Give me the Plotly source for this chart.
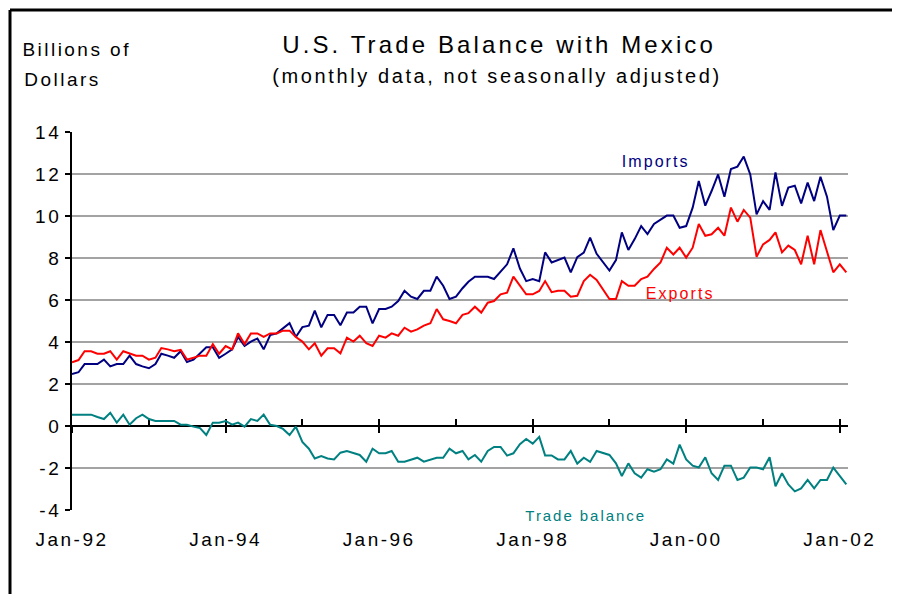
import plotly.graph_objects as go
import pandas as pd

# Monthly values, Jan-1992 .. Feb-2002 (billions of dollars)
imports = [2.48, 2.56, 2.95, 2.95, 2.95, 3.16, 2.84, 2.95, 2.95, 3.35, 2.95, 2.84,
           2.75, 2.95, 3.44, 3.35, 3.25, 3.56, 3.05, 3.16, 3.44, 3.75, 3.75, 3.25,
           3.44, 3.65, 4.24, 3.81, 4.02, 4.17, 3.65, 4.33, 4.41, 4.63, 4.90, 4.24,
           4.71, 4.78, 5.49, 4.70, 5.29, 5.29, 4.80, 5.40, 5.40, 5.68, 5.68, 4.89,
           5.57, 5.57, 5.68, 5.95, 6.44, 6.16, 6.05, 6.44, 6.44, 7.11, 6.68, 6.05,
           6.16, 6.56, 6.87, 7.11, 7.11, 7.11, 7.00, 7.35, 7.70, 8.46, 7.50, 6.90,
           7.00, 6.90, 8.27, 7.79, 7.90, 8.02, 7.32, 8.04, 8.26, 8.97, 8.20, 7.78,
           7.40, 7.90, 9.22, 8.38, 8.90, 9.52, 9.14, 9.62, 9.81, 10.02, 10.02, 9.44,
           9.52, 10.40, 11.67, 10.49, 11.19, 11.98, 10.92, 12.24, 12.35, 12.83, 11.98, 10.08,
           10.71, 10.29, 12.08, 10.48, 11.35, 11.44, 10.60, 11.59, 10.71, 11.87, 10.92, 9.33,
           10.02, 10.02]

exports = [3.03, 3.14, 3.56, 3.56, 3.44, 3.44, 3.56, 3.16, 3.56, 3.44, 3.35, 3.35,
           3.16, 3.25, 3.71, 3.65, 3.56, 3.62, 3.16, 3.25, 3.35, 3.35, 3.90, 3.44,
           3.81, 3.65, 4.41, 3.90, 4.41, 4.41, 4.24, 4.41, 4.41, 4.54, 4.54, 4.24,
           4.02, 3.65, 3.94, 3.35, 3.70, 3.70, 3.46, 4.21, 4.02, 4.30, 3.94, 3.81,
           4.30, 4.21, 4.41, 4.30, 4.68, 4.49, 4.60, 4.78, 4.89, 5.57, 5.08, 5.00,
           4.89, 5.29, 5.37, 5.68, 5.40, 5.87, 5.95, 6.27, 6.35, 7.11, 6.68, 6.27,
           6.27, 6.43, 6.90, 6.37, 6.44, 6.44, 6.16, 6.20, 6.90, 7.20, 6.95, 6.48,
           6.05, 6.05, 6.90, 6.68, 6.68, 7.00, 7.11, 7.48, 7.79, 8.49, 8.17, 8.49,
           8.02, 8.49, 9.62, 9.06, 9.13, 9.44, 9.06, 10.40, 9.73, 10.29, 9.92, 8.06,
           8.65, 8.86, 9.22, 8.27, 8.59, 8.38, 7.70, 9.06, 7.70, 9.33, 8.33, 7.32,
           7.70, 7.32]

trade_balance = [0.54, 0.54, 0.54, 0.54, 0.43, 0.33, 0.63, 0.16, 0.54, 0.06, 0.37, 0.54,
                 0.33, 0.24, 0.24, 0.24, 0.24, 0.06, 0.06, -0.03, -0.10, -0.43, 0.16, 0.16,
                 0.24, 0.06, 0.16, -0.03, 0.33, 0.24, 0.54, 0.06, 0.00, -0.14, -0.43, -0.03,
                 -0.76, -1.08, -1.55, -1.43, -1.55, -1.59, -1.27, -1.19, -1.30, -1.38, -1.70, -1.08,
                 -1.30, -1.30, -1.19, -1.70, -1.70, -1.59, -1.51, -1.70, -1.59, -1.51, -1.51, -1.08,
                 -1.30, -1.19, -1.59, -1.38, -1.70, -1.19, -1.00, -1.00, -1.41, -1.30, -0.87, -0.62,
                 -0.84, -0.52, -1.40, -1.40, -1.59, -1.59, -1.19, -1.79, -1.51, -1.71, -1.19, -1.27,
                 -1.38, -1.78, -2.38, -1.78, -2.25, -2.46, -2.06, -2.17, -2.06, -1.59, -1.79, -0.89,
                 -1.59, -1.89, -1.98, -1.49, -2.25, -2.57, -1.89, -1.89, -2.57, -2.46, -1.98, -1.98,
                 -2.06, -1.49, -2.87, -2.25, -2.78, -3.11, -2.97, -2.57, -2.97, -2.57, -2.57, -1.98,
                 -2.41, -2.78]

months = pd.date_range("1992-01-01", periods=len(imports), freq="MS")

x_tick_dates = ["1992-01-01", "1994-01-01", "1996-01-01", "1998-01-01", "2000-01-01", "2002-01-01"]
x_tick_labels = ["Jan-92", "Jan-94", "Jan-96", "Jan-98", "Jan-00", "Jan-02"]
y_tick_values = [-4, -2, 0, 2, 4, 6, 8, 10, 12, 14]
y_tick_labels = ["-4", "-2", "0", "2", "4", "6", "8", "10", "12", "14"]
grid_values = [-2, 2, 4, 6, 8, 10, 12]

x_range = ["1992-01-01", "2002-02-09"]
y_range = [-4, 14]

NAVY = "#000080"
RED = "#FF0000"
TEAL = "#008080"
FONT = "Arial, Liberation Sans, sans-serif"

fig = go.Figure()
fig.add_trace(go.Scatter(x=months, y=imports, mode="lines", name="Imports",
                         line=dict(color=NAVY, width=2), xaxis="x", yaxis="y"))
fig.add_trace(go.Scatter(x=months, y=exports, mode="lines", name="Exports",
                         line=dict(color=RED, width=2), xaxis="x2", yaxis="y"))
fig.add_trace(go.Scatter(x=months, y=trade_balance, mode="lines", name="Trade balance",
                         line=dict(color=TEAL, width=2), xaxis="x3", yaxis="y2"))

zero_pos = (0 - y_range[0]) / (y_range[1] - y_range[0])

# page has an 8px body margin, so the figure is 8px smaller on each axis
fig.update_layout(
    width=892, height=586,
    margin=dict(l=64, r=52, t=124, b=84),
    paper_bgcolor="white", plot_bgcolor="white",
    showlegend=False,
    font=dict(family=FONT, color="black", size=19),
    xaxis=dict(type="date", range=x_range, tickvals=x_tick_dates, ticktext=x_tick_labels,
               ticks="", showline=False, showgrid=False, zeroline=False,
               tickfont=dict(size=19, color="black"), ticklabelstandoff=16),
    xaxis2=dict(type="date", range=x_range, overlaying="x", anchor="free", position=zero_pos,
                showline=True, linecolor="black", linewidth=2, layer="below traces",
                ticks="inside", ticklen=6, tickwidth=2, tickcolor="black",
                tick0="1992-01-01", dtick="M12", showticklabels=False,
                showgrid=False, zeroline=False),
    xaxis3=dict(type="date", range=x_range, overlaying="x", anchor="free", position=zero_pos,
                showline=False, layer="below traces",
                ticks="outside", ticklen=6, tickwidth=2, tickcolor="black",
                tick0="1992-01-01", dtick="M24", showticklabels=False,
                showgrid=False, zeroline=False),
    yaxis=dict(range=y_range, tickvals=y_tick_values, ticktext=y_tick_labels,
               ticks="outside", ticklen=5, tickwidth=2, tickcolor="black",
               showline=True, linecolor="black", linewidth=2,
               showgrid=True, gridcolor="#dadada", gridwidth=1, zeroline=False,
               tickfont=dict(size=19, color="black"), ticklabelstandoff=0),
    yaxis2=dict(range=y_range, overlaying="y", anchor="x", tickvals=grid_values,
                showticklabels=False, ticks="", showline=False,
                showgrid=True, gridcolor="#a3a3a3", gridwidth=2, zeroline=False),
)

def px_to_paper(px, py):
    # px, py are window pixel positions (plot area spans x 72..848, y 132..510)
    return (px - 72) / 776, (510 - py) / 378

annos = [
    ("U.S. Trade Balance with Mexico", 499, 45, 24, "black"),
    ("(monthly data, not seasonally adjusted)", 497, 76, 20, "black"),
    ("Billions of", 77, 50, 19, "black"),
    ("Dollars", 62, 80, 19, "black"),
    ("Imports", 655, 161, 16, NAVY),
    ("Exports", 680, 293, 16, RED),
    ("Trade balance", 585, 515, 15, TEAL),
]
for text, px, py, size, color in annos:
    xp, yp = px_to_paper(px, py)
    fig.add_annotation(text=text, x=xp, y=yp, xref="paper", yref="paper",
                       xanchor="center", yanchor="middle", showarrow=False,
                       font=dict(size=size, color=color, family=FONT))

# outer frame (top and left edges)
x0, y0 = px_to_paper(10, 10)
x1, _ = px_to_paper(900, 10)
_, y1 = px_to_paper(10, 594)
fig.add_shape(type="line", xref="paper", yref="paper", x0=x0, y0=y0, x1=x1, y1=y0,
              line=dict(color="black", width=3))
fig.add_shape(type="line", xref="paper", yref="paper", x0=x0, y0=y0, x1=x0, y1=y1,
              line=dict(color="black", width=3))

post = ("document.querySelectorAll('.main-svg text').forEach(function(t){"
        "t.style.letterSpacing='0.13em';});")
fig.write_html("out.html", post_script=post)
